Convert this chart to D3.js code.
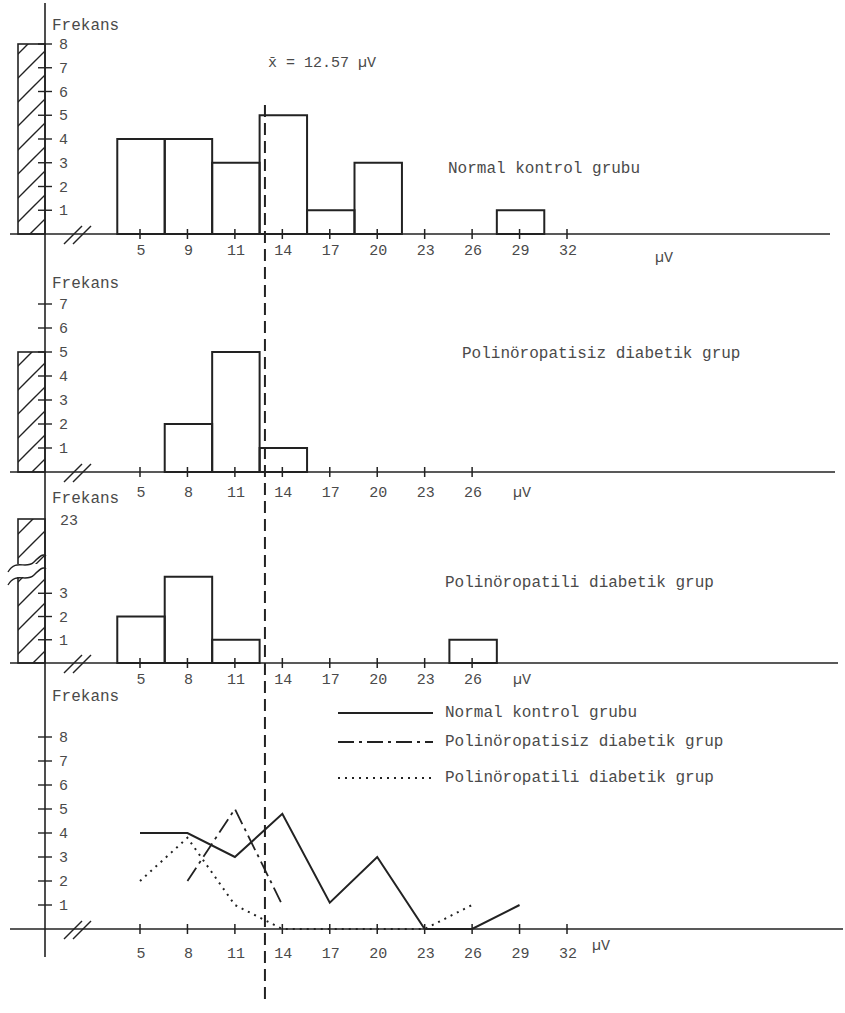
<!DOCTYPE html>
<html>
<head>
<meta charset="utf-8">
<script src="https://cdn.jsdelivr.net/npm/d3@7"></script>
<style>
  body { margin: 0; background: #fff; }
  svg text { font-family: 'Liberation Mono', 'DejaVu Sans Mono', monospace; fill: #4a4a4a; }
</style>
</head>
<body>
<svg id="chart" width="845" height="1013"></svg>
<script>
// bin centres (μV) and what is written under each tick
const binsTop = [5, 8, 11, 14, 17, 20, 23, 26, 29, 32];
const binsMid = [5, 8, 11, 14, 17, 20, 23, 26];
const labelsTop = ['5', '9', '11', '14', '17', '20', '23', '26', '29', '32'];
const labelsMid = ['5', '8', '11', '14', '17', '20', '23', '26'];
const labelsBottom = ['5', '8', '11', '14', '17', '20', '23', '26', '29', '32'];

// frequencies
const normalBins = [5, 8, 11, 14, 17, 20, 23, 26, 29];
const normalFreq = [4, 4, 3, 5, 1, 3, 0, 0, 1];
const nonNeuroBins = [8, 11, 14];
const nonNeuroFreq = [2, 5, 1];
const neuroBins = [5, 8, 11, 14, 17, 20, 23, 26];
const neuroFreq = [2, 4, 1, 0, 0, 0, 0, 1];

// frequency polygons as drawn in the last panel
const normalLine = [4, 4, 3, 4.8, 1.1, 3, 0, 0, 1];
const nonNeuroLine = [2, 5, 1];
const neuroLine = [2, 3.8, 1, 0, 0, 0, 0, 1];

// hatched column left of the axis (one per histogram)
const hatched = [8, 5, 23];
const yTicksTop = [1, 2, 3, 4, 5, 6, 7, 8];
const yTicksMid = [1, 2, 3, 4, 5, 6, 7];
const yTicksLow = [1, 2, 3];
const yTicksBottom = [1, 2, 3, 4, 5, 6, 7, 8];

const meanText = 'x\u0304 = 12.57 \u00b5V';
const meanDrawn = 12.9; // where the dashed line sits on the paper

const ink = '#222';
const svg = d3.select('#chart');

const axisX = 45;
const x = d3.scaleLinear().domain([5, 32]).range([140, 567]);

// hatch pattern
const defs = svg.append('defs');
defs
  .append('pattern')
  .attr('id', 'hatch')
  .attr('patternUnits', 'userSpaceOnUse')
  .attr('width', 24)
  .attr('height', 24)
  .append('path')
  .attr('d', 'M-6,30 L30,-6 M-6,6 L6,-6 M18,30 L30,18')
  .attr('stroke', ink)
  .attr('stroke-width', 1.4);

// panels: y scales
const y1 = d3.scaleLinear().domain([0, 8]).range([234, 44]);
const y2 = d3.scaleLinear().domain([0, 7]).range([472, 304]);
// broken scale: 3.7 .. 21.2 is squeezed out
const y3 = d3.scaleLinear().domain([0, 3.7, 21.2, 23]).range([663, 577, 562, 519]);
const y4 = d3.scaleLinear().domain([0, 8]).range([929, 737]);

// main vertical axis
svg
  .append('line')
  .attr('x1', axisX)
  .attr('x2', axisX)
  .attr('y1', 3)
  .attr('y2', 957)
  .attr('stroke', ink)
  .attr('stroke-width', 1.6);

function baseline(y, tickVals, labels, labelY, unitX, unitY, x2) {
  const g = svg.append('g');
  g.append('line')
    .attr('x1', 10)
    .attr('x2', x2)
    .attr('y1', y(0))
    .attr('y2', y(0))
    .attr('stroke', ink)
    .attr('stroke-width', 1.5);

  // break marks
  [0, 9].forEach((dx) => {
    g.append('line')
      .attr('x1', 64 + dx)
      .attr('y1', y(0) + 10)
      .attr('x2', 82 + dx)
      .attr('y2', y(0) - 8)
      .attr('stroke', ink)
      .attr('stroke-width', 1.4);
  });

  g.selectAll('.xt')
    .data(tickVals)
    .enter()
    .append('line')
    .attr('x1', (d) => x(d))
    .attr('x2', (d) => x(d))
    .attr('y1', y(0) - 5)
    .attr('y2', y(0) + 5)
    .attr('stroke', ink)
    .attr('stroke-width', 1.5);

  g.selectAll('.xl')
    .data(tickVals)
    .enter()
    .append('text')
    .attr('x', (d) => x(d) + 1)
    .attr('y', labelY)
    .attr('text-anchor', 'middle')
    .attr('font-size', '15px')
    .text((d, i) => labels[i]);

  g.append('text')
    .attr('x', unitX)
    .attr('y', unitY)
    .attr('font-size', '15px')
    .text('\u00b5V');
}

function yTicks(y, vals) {
  const g = svg.append('g');
  g.selectAll('line')
    .data(vals)
    .enter()
    .append('line')
    .attr('x1', axisX - 7)
    .attr('x2', axisX + 7)
    .attr('y1', (d) => y(d))
    .attr('y2', (d) => y(d))
    .attr('stroke', ink)
    .attr('stroke-width', 1.4);
  g.selectAll('text')
    .data(vals)
    .enter()
    .append('text')
    .attr('x', 59)
    .attr('y', (d) => y(d) + 5)
    .attr('font-size', '15px')
    .text((d) => d);
}

function frekans(yPos) {
  svg
    .append('text')
    .attr('x', 52)
    .attr('y', yPos)
    .attr('font-size', '16px')
    .text('Frekans');
}

function hatchBar(y, v) {
  svg
    .append('rect')
    .attr('x', 18)
    .attr('y', y(v))
    .attr('width', axisX - 18)
    .attr('height', y(0) - y(v))
    .attr('fill', 'url(#hatch)')
    .attr('stroke', ink)
    .attr('stroke-width', 1.6);
}

function histogram(y, bins, freq) {
  const w = x(6.5) - x(5);
  svg
    .append('g')
    .selectAll('rect')
    .data(bins)
    .enter()
    .append('rect')
    .attr('x', (d) => x(d) - w + 1)
    .attr('y', (d, i) => y(freq[i]))
    .attr('width', w * 2)
    .attr('height', (d, i) => Math.max(0, y(0) - y(freq[i])))
    .attr('fill', 'none')
    .attr('stroke', ink)
    .attr('stroke-width', 2);
}

// ---- panel 1: normal control
frekans(30);
hatchBar(y1, hatched[0]);
yTicks(y1, yTicksTop);
baseline(y1, binsTop, labelsTop, 255, 655, 262, 830);
histogram(y1, normalBins, normalFreq);
svg.append('text').attr('x', 268).attr('y', 67).attr('font-size', '15px').text(meanText);
svg.append('text').attr('x', 448).attr('y', 173).attr('font-size', '16px').text('Normal kontrol grubu');

// ---- panel 2: without polyneuropathy
frekans(288);
hatchBar(y2, hatched[1]);
yTicks(y2, yTicksMid);
baseline(y2, binsMid, labelsMid, 497, 513, 497, 835);
histogram(y2, nonNeuroBins, nonNeuroFreq);
svg.append('text').attr('x', 462).attr('y', 358).attr('font-size', '16px').text('Polinöropatisiz diabetik grup');

// ---- panel 3: with polyneuropathy (broken axis)
frekans(503);
hatchBar(y3, hatched[2]);
// cut through the hatched column
const yb1 = y3(21.2), yb2 = y3(3.7);
svg
  .append('rect')
  .attr('x', 10)
  .attr('y', yb1 + 2)
  .attr('width', axisX - 11)
  .attr('height', yb2 - yb1 - 2)
  .attr('fill', '#fff');
[yb1 + 4, yb2 + 2].forEach((yy) => {
  svg
    .append('path')
    .attr('d', `M8,${yy + 6} C16,${yy - 8} 26,${yy + 4} 34,${yy - 4} S44,${yy - 12} 46,${yy - 10}`)
    .attr('fill', 'none')
    .attr('stroke', ink)
    .attr('stroke-width', 1.4);
});
yTicks(y3, yTicksLow);
svg.append('text').attr('x', 60).attr('y', y3(23) + 6).attr('font-size', '15px').text('23');
baseline(y3, binsMid, labelsMid, 684, 513, 684, 838);
histogram(y3, neuroBins, neuroFreq);
svg.append('text').attr('x', 445).attr('y', 587).attr('font-size', '16px').text('Polinöropatili diabetik grup');

// ---- panel 4: frequency polygons
frekans(701);
yTicks(y4, yTicksBottom);
baseline(y4, binsTop, labelsBottom, 958, 592, 950, 843);

const line4 = d3
  .line()
  .x((d) => x(d[0]))
  .y((d) => y4(d[1]));

const series = [
  { bins: normalBins, vals: normalLine, dash: null, w: 2, name: 'Normal kontrol grubu' },
  { bins: nonNeuroBins, vals: nonNeuroLine, dash: '16,5,3,5', w: 1.8, name: 'Polinöropatisiz diabetik grup' },
  { bins: neuroBins, vals: neuroLine, dash: '2,5', w: 2, name: 'Polinöropatili diabetik grup' },
];

series.forEach((s, i) => {
  svg
    .append('path')
    .datum(s.bins.map((b, j) => [b, s.vals[j]]))
    .attr('d', line4)
    .attr('fill', 'none')
    .attr('stroke', ink)
    .attr('stroke-width', s.w)
    .attr('stroke-dasharray', s.dash);

  const ly = [713, 742, 778][i];
  svg
    .append('line')
    .attr('x1', 338)
    .attr('x2', 433)
    .attr('y1', ly)
    .attr('y2', ly)
    .attr('stroke', ink)
    .attr('stroke-width', s.w)
    .attr('stroke-dasharray', s.dash);
  svg
    .append('text')
    .attr('x', 445)
    .attr('y', ly + 4)
    .attr('font-size', '16px')
    .text(s.name);
});

// mean line through all panels
svg
  .append('line')
  .attr('x1', x(meanDrawn))
  .attr('x2', x(meanDrawn))
  .attr('y1', 105)
  .attr('y2', 1005)
  .attr('stroke', ink)
  .attr('stroke-width', 2)
  .attr('stroke-dasharray', '12,6');
</script>
</body>
</html>
